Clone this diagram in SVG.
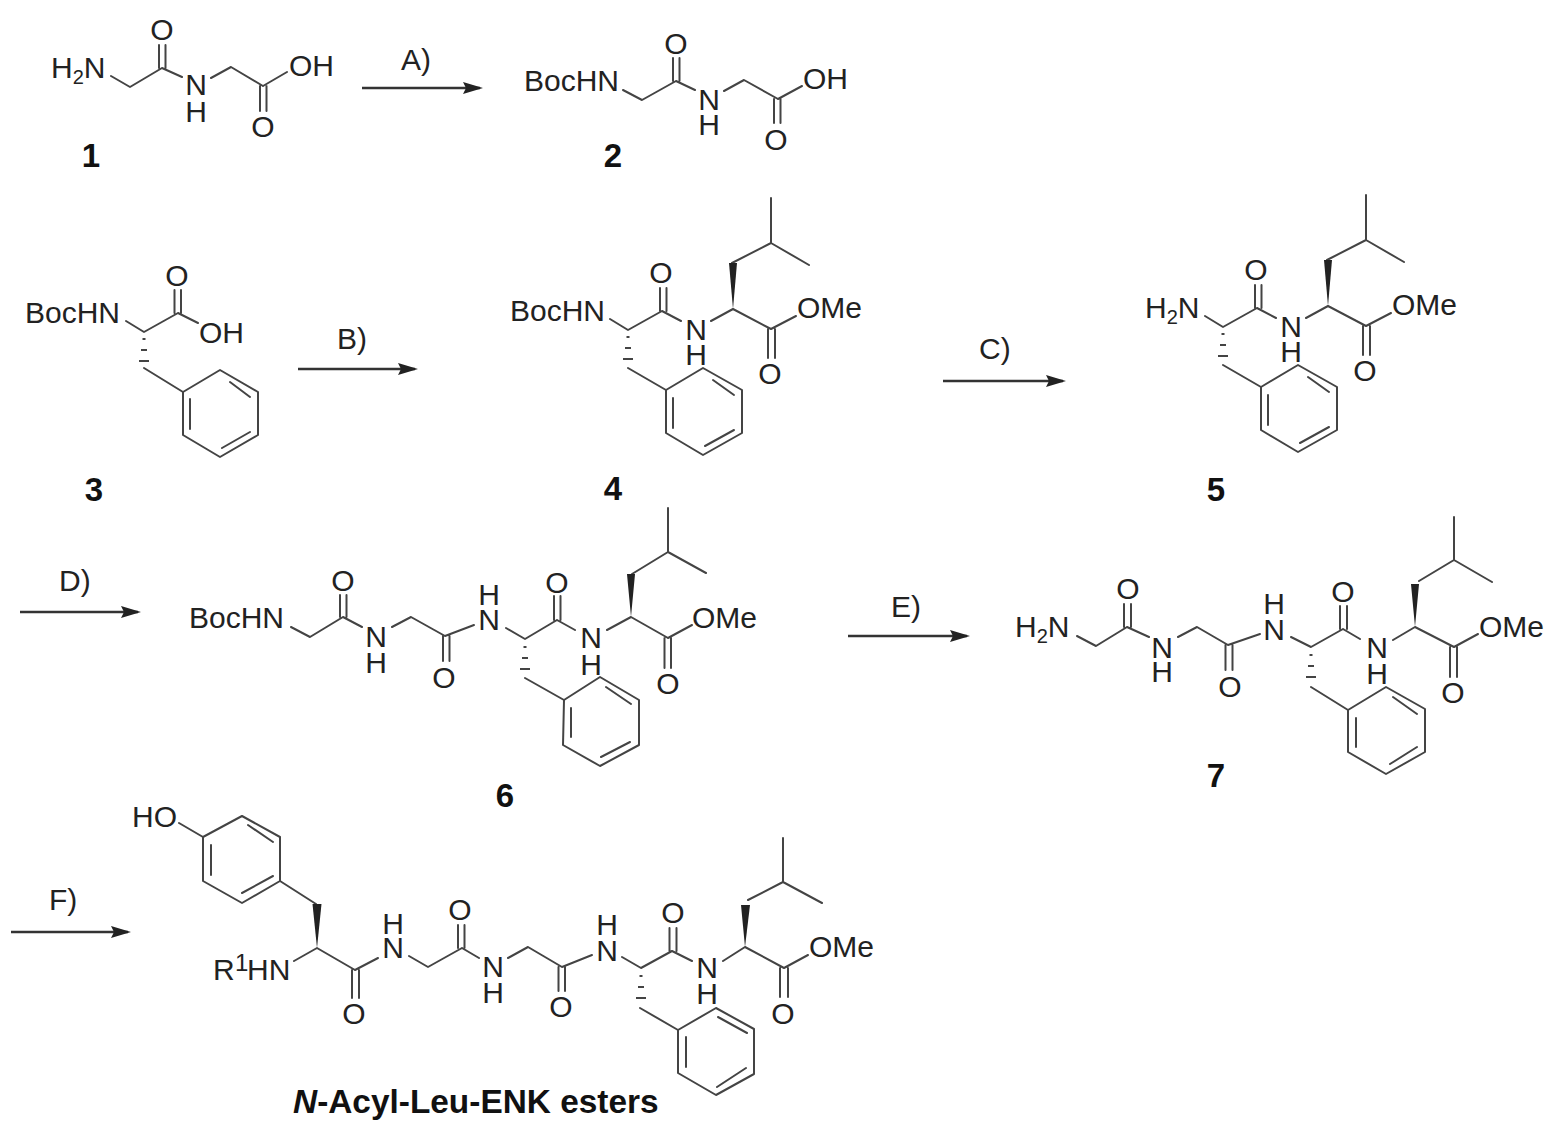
<svg xmlns="http://www.w3.org/2000/svg" width="1560" height="1136" viewBox="0 0 1560 1136">
<style>
text{font-family:"Liberation Sans",Arial,sans-serif;font-size:30px;fill:#222}
.c{text-anchor:middle}
.num{font-weight:bold;font-size:33px;text-anchor:middle;fill:#111}
.sub{font-size:20px}
.sup{font-size:24px}
.cap{font-weight:bold;font-size:33.4px;fill:#111}
.it{font-style:italic}
.b{fill:none;stroke:#444;stroke-width:2;stroke-linecap:round;stroke-linejoin:round}
.w{fill:#222;stroke:none}
.a{fill:none;stroke:#333;stroke-width:2.4}
</style>
<defs>
<marker id="head" markerUnits="userSpaceOnUse" markerWidth="22" markerHeight="14" refX="18" refY="7" orient="auto"><path d="M1 1 L21 7 L1 13 L4 7 Z" fill="#222"/></marker>
<g id="hash"><path d="M-1.500 7H1.500M-3 18H3M-5 29H5" fill="none" stroke="#444" stroke-width="2.200"/></g>
</defs>
<rect width="1560" height="1136" fill="#fff"/>
<g id="connectors">
<line class="a" x1="362" y1="88" x2="480" y2="88" marker-end="url(#head)"/>
<line class="a" x1="298" y1="369" x2="415" y2="369" marker-end="url(#head)"/>
<line class="a" x1="943" y1="381" x2="1063" y2="381" marker-end="url(#head)"/>
<line class="a" x1="20" y1="612" x2="138" y2="612" marker-end="url(#head)"/>
<line class="a" x1="848" y1="636" x2="967" y2="636" marker-end="url(#head)"/>
<line class="a" x1="11" y1="932" x2="128" y2="932" marker-end="url(#head)"/>
</g>
<g id="reagents">
<text x="401" y="70">A)</text>
<text x="337" y="349">B)</text>
<text x="979" y="359">C)</text>
<text x="59" y="591">D)</text>
<text x="891" y="617">E)</text>
<text x="49" y="910">F)</text>
</g>
<g id="mol1">
<path class="b" d="M111 76L130 87L162 68M159 68V45M165.500 68V45M162 68L182 77M211 78L231 67L263 86M260 86V111M266.500 86V111M263 86L287 72"/>
<text x="51" y="78">H<tspan class="sub" dy="6">2</tspan><tspan dy="-6">N</tspan></text>
<text class="c" x="162" y="40">O</text>
<text class="c" x="196" y="95">N<tspan x="196" dy="27">H</tspan></text>
<text class="c" x="263" y="137">O</text>
<text x="289" y="76">OH</text>
<text class="num" x="91" y="167">1</text>
</g>
<g id="mol2">
<path class="b" d="M623 90L642 100L676 81M673 81V58M679.500 81V58M676 81L695 90M724 91L744 80L778 99M774 99V123M780.500 99V123M778 99L802 86"/>
<text x="524" y="91">BocHN</text>
<text class="c" x="676" y="54">O</text>
<text class="c" x="709" y="110">N<tspan x="709" dy="25">H</tspan></text>
<text class="c" x="776" y="150">O</text>
<text x="803" y="89">OH</text>
<text class="num" x="613" y="167">2</text>
</g>
<g id="mol3">
<path class="b" d="M126 321L144 332L178 313M174.500 313V290M181 313V290M178 313L198 323M144 368L183 392"/>
<use href="#hash" x="144" y="332"/>
<path class="b" d="M183 392L220 370L258 392V435L220 457L183 435ZM190 399V429M230 382L250 397M222 448L250 432"/>
<text x="25" y="323">BocHN</text>
<text class="c" x="177" y="286">O</text>
<text x="199" y="343">OH</text>
<text class="num" x="94" y="501">3</text>
</g>
<g id="mol4">
<path class="b" d="M610 319L628 330L662 311M660 311V288M666.500 311V288M662 311L681 321M711 321L733 309M733 309L771 329M768 329V358M775 329V358M771 329L796 316M732 263L771 243V198M771 243L809 265M628 368L666 390"/>
<polygon class="w" points="733,309 729,263 737,263"/>
<use href="#hash" x="628" y="330"/>
<path class="b" d="M666 390L703 368L742 390V433L703 455L666 433ZM673 398V428M713 380L734 395M705 446L734 430"/>
<text x="510" y="321">BocHN</text>
<text class="c" x="661" y="283">O</text>
<text class="c" x="696" y="340">N<tspan x="696" dy="25">H</tspan></text>
<text class="c" x="770" y="384">O</text>
<text x="797" y="318">OMe</text>
<text class="num" x="613" y="500">4</text>
</g>
<g id="mol5">
<path class="b" d="M1205 316L1223 327L1257 308M1255 308V285M1261.500 308V285M1257 308L1276 318M1306 318L1328 306M1328 306L1366 326M1363 326V355M1370 326V355M1366 326L1391 313M1327 260L1366 240V195M1366 240L1404 262M1223 365L1261 387"/>
<polygon class="w" points="1328,306 1324,260 1332,260"/>
<use href="#hash" x="1223" y="327"/>
<path class="b" d="M1261 387L1298 365L1337 387V430L1298 452L1261 430ZM1268 395V425M1308 377L1329 392M1300 443L1329 427"/>
<text x="1145" y="318">H<tspan class="sub" dy="6">2</tspan><tspan dy="-6">N</tspan></text>
<text class="c" x="1256" y="280">O</text>
<text class="c" x="1291" y="337">N<tspan x="1291" dy="25">H</tspan></text>
<text class="c" x="1365" y="381">O</text>
<text x="1392" y="315">OMe</text>
<text class="num" x="1216" y="501">5</text>
</g>
<g id="mol6">
<path class="b" d="M291 627L310 637L343 617M340 617V595M346.500 617V595M343 617L362 627M392 627L411 617L445 636M443 636V661M449.500 636V661M445 636L474 625M506 628L525 639L557 620M554 620V596M560.500 620V596M557 620L575 630M607 630L631 617L668 638M664.500 638V668M671 638V668M668 638L692 625M632 574L668 552V508M668 552L706 573M525 678L564 700"/>
<polygon class="w" points="631,617 627,574 635,574"/>
<use href="#hash" x="525" y="640"/>
<path class="b" d="M564 700L600 677L639 700V745L600 766L563 745ZM571 708V737M606 687L631 704M601 757L630 742"/>
<text x="189" y="628">BocHN</text>
<text class="c" x="343" y="591">O</text>
<text class="c" x="376" y="647">N<tspan x="376" dy="26">H</tspan></text>
<text class="c" x="444" y="688">O</text>
<text class="c" x="489" y="605">H<tspan x="489" dy="25">N</tspan></text>
<text class="c" x="557" y="593">O</text>
<text class="c" x="591" y="648">N<tspan x="591" dy="27">H</tspan></text>
<text class="c" x="668" y="694">O</text>
<text x="692" y="628">OMe</text>
<text class="num" x="505" y="807">6</text>
</g>
<g id="mol7">
<path class="b" d="M1077 636L1096 646L1127 627M1124 627V604M1131 627V604M1127 627L1149 637M1178 637L1197 627L1228 645M1225.500 645V670M1232.500 645V670M1228 645L1260 634M1291 637L1311 647L1343 629M1340 629V606M1347 629V606M1343 629L1360 639M1393 640L1415 627L1454 647M1450 647V677M1457 647V677M1454 647L1478 634M1419 581L1454 560V517M1454 560L1492 582M1311 687L1348 710"/>
<polygon class="w" points="1415,627 1411,584 1419,584"/>
<use href="#hash" x="1311" y="648"/>
<path class="b" d="M1348 710L1386 687L1425 709V752L1386 774L1348 752ZM1356 718V747M1393 697L1417 714M1390 764L1417 747"/>
<text x="1015" y="637">H<tspan class="sub" dy="6">2</tspan><tspan dy="-6">N</tspan></text>
<text class="c" x="1128" y="599">O</text>
<text class="c" x="1162" y="658">N<tspan x="1162" dy="24">H</tspan></text>
<text class="c" x="1230" y="697">O</text>
<text class="c" x="1274" y="614">H<tspan x="1274" dy="26">N</tspan></text>
<text class="c" x="1343" y="602">O</text>
<text class="c" x="1377" y="658">N<tspan x="1377" dy="26">H</tspan></text>
<text class="c" x="1453" y="703">O</text>
<text x="1479" y="637">OMe</text>
<text class="num" x="1216" y="787">7</text>
</g>
<g id="mol8">
<path class="b" d="M179 823L203 837M280 881L316 904M294 961L317 948L355 970M352 970V998M359 970V998M355 970L378 958M409 956L428 967L462 948M458 948V925M464.500 948V925M462 948L479 958M508 958L528 947L562 967M558.500 967V991M565 967V991M562 967L592 955M622 957L641 968L672 951M669.500 951V928M676.500 951V928M672 951L692 961M723 961L745 947L784 968M780 968V997M788 968V997M784 968L808 955M748 900L783 882V838M783 882L822 903M640 1008L678 1030"/>
<path class="b" d="M203 837L242 816L280 837V881L242 903L203 881ZM211 845V875M248 825L273 842M242 893L273 876"/>
<polygon class="w" points="317,948 312.500,904 321.500,904"/>
<polygon class="w" points="745,947 741,905 750,905"/>
<use href="#hash" x="641" y="969"/>
<path class="b" d="M678 1030L716 1008L754 1029V1074L716 1095L678 1073ZM686 1037V1067M718 1017L747 1033M717 1087L746 1068"/>
<text x="132" y="827">HO</text>
<text x="213" y="980">R<tspan class="sup" x="235" y="971">1</tspan><tspan x="247" y="980">HN</tspan></text>
<text class="c" x="354" y="1024">O</text>
<text class="c" x="393" y="934">H<tspan x="393" dy="24">N</tspan></text>
<text class="c" x="460" y="920">O</text>
<text class="c" x="493" y="977">N<tspan x="493" dy="26">H</tspan></text>
<text class="c" x="561" y="1017">O</text>
<text class="c" x="607" y="935">H<tspan x="607" dy="26">N</tspan></text>
<text class="c" x="673" y="923">O</text>
<text class="c" x="707" y="978">N<tspan x="707" dy="26">H</tspan></text>
<text class="c" x="783" y="1024">O</text>
<text x="809" y="957">OMe</text>
<text class="cap" x="293" y="1113"><tspan class="it">N</tspan>-Acyl-Leu-ENK esters</text>
</g>
</svg>
